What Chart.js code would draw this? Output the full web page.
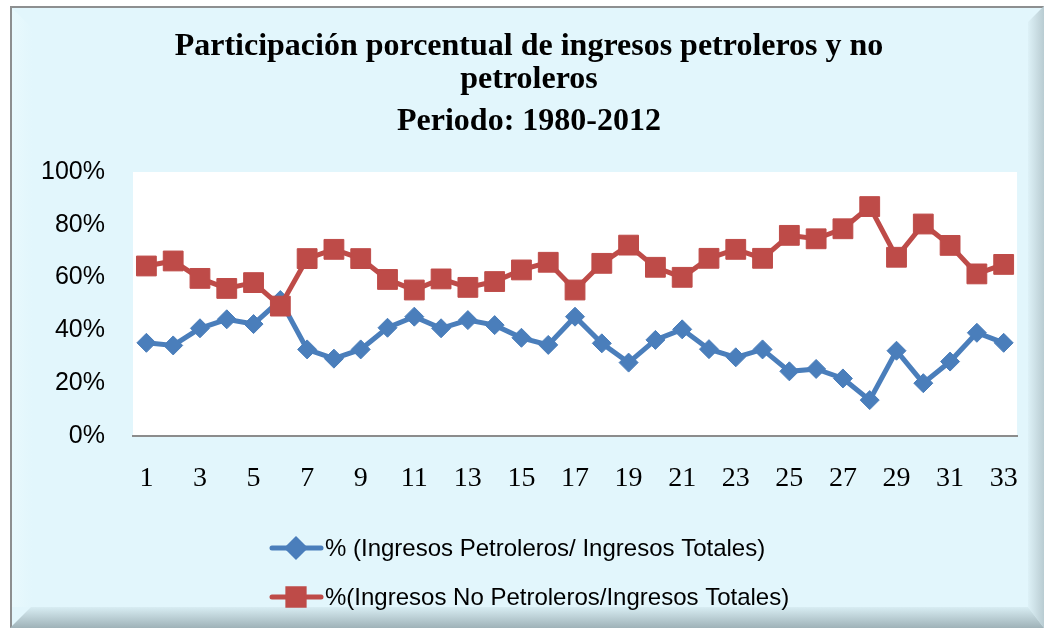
<!DOCTYPE html>
<html>
<head>
<meta charset="utf-8">
<script src="https://cdn.jsdelivr.net/npm/chart.js@4.4.1/dist/chart.umd.min.js"></script>
<style>
  html, body { margin: 0; padding: 0; background: #fff; overflow: hidden; }
  #frame {
    position: absolute; left: 10px; top: 6px; width: 1034px; height: 622px;
    background: #E2F6FC;
    border-left: 2px solid #8d8f90; border-top: 2px solid #8d8f90;
    box-sizing: border-box;
  }
  #bevelR {
    position: absolute; left: 1028px; top: 6px; width: 16px; height: 622px;
    background: linear-gradient(to right, #DDF1F7, #B9CCD2);
    clip-path: polygon(0 16px, 100% 0, 100% 100%, 0 calc(100% - 21px));
  }
  #bevelB {
    position: absolute; left: 10px; top: 607px; width: 1034px; height: 21px;
    background: linear-gradient(to bottom, #D8EDF3, #9FB2B8);
    clip-path: polygon(21px 0, calc(100% - 16px) 0, 100% 100%, 0 100%);
  }
  #bevelL {
    position: absolute; left: 12px; top: 8px; width: 20px; height: 599px;
    background: linear-gradient(to right, #E8F9FD, #E2F6FC);
    clip-path: polygon(0 0, 100% 20px, 100% 100%, 0 100%);
  }
  #chart { position: absolute; left: 0; top: 0; }
</style>
</head>
<body>
<div id="frame"></div>
<div id="bevelL"></div>
<div id="bevelR"></div>
<div id="bevelB"></div>
<canvas id="chart" width="1044" height="628"></canvas>
<script>
// ─── Data ────────────────────────────────────────────────────────────────────
var TITLE_LINES = [
  'Participación porcentual de ingresos petroleros y no',
  'petroleros',
  'Periodo: 1980-2012'
];

var CATEGORIES = ['1','2','3','4','5','6','7','8','9','10','11','12','13','14','15','16','17',
                  '18','19','20','21','22','23','24','25','26','27','28','29','30','31','32','33'];

// % (Ingresos Petroleros / Ingresos Totales)
var PETROLEROS = [35.3, 34.3, 40.8, 44.2, 42.4, 51.5, 32.8, 29.3, 32.8, 41.0, 45.2,
                  40.8, 43.9, 42.0, 37.2, 34.5, 45.2, 35.1, 27.8, 36.4, 40.4, 32.9,
                  29.8, 32.8, 24.5, 25.4, 21.8, 13.6, 32.3, 20.0, 28.2, 39.1, 35.3];

// %(Ingresos No Petroleros / Ingresos Totales)
var NO_PETROLEROS = [64.4, 66.3, 59.7, 55.9, 58.1, 49.2, 67.2, 70.7, 67.2, 59.3, 55.3,
                     59.5, 56.3, 58.5, 62.9, 65.8, 55.3, 65.4, 72.3, 63.9, 60.1, 67.3,
                     70.7, 67.3, 76.0, 74.7, 78.5, 86.9, 67.7, 80.3, 72.2, 61.4, 65.0];

var Y_TICKS = [0, 20, 40, 60, 80, 100];

var LABEL_PET = '% (Ingresos Petroleros/ Ingresos Totales)';
var LABEL_NOPET = '%(Ingresos No Petroleros/Ingresos Totales)';

var BLUE = '#4A7EBB';
var RED  = '#BE4B48';

// ─── Plugins ────────────────────────────────────────────────────────────────
// white plot area
var plotBg = {
  id: 'plotBg',
  beforeDraw: function(chart) {
    var a = chart.chartArea, ctx = chart.ctx;
    ctx.save();
    ctx.fillStyle = '#ffffff';
    ctx.fillRect(a.left, a.top, a.right - a.left, a.bottom - a.top);
    ctx.restore();
  }
};

// title, three centred lines in bold serif
var titleText = {
  id: 'titleText',
  afterDraw: function(chart) {
    var ctx = chart.ctx;
    var baselines = [55, 88, 130];
    ctx.save();
    ctx.font = 'bold 32px "Liberation Serif", "Times New Roman", serif';
    ctx.fillStyle = '#000';
    ctx.textAlign = 'center';
    ctx.textBaseline = 'alphabetic';
    TITLE_LINES.forEach(function(t, i) { ctx.fillText(t, 529, baselines[i]); });
    ctx.restore();
  }
};

// legend below chart, left aligned, line + marker
var legendBox = {
  id: 'legendBox',
  afterDraw: function(chart) {
    var ctx = chart.ctx;
    var rows = [548, 597];
    ctx.save();
    chart.data.datasets.forEach(function(ds, i) {
      var y = rows[i];
      ctx.strokeStyle = ds.borderColor;
      ctx.lineWidth = 5;
      ctx.lineCap = 'round';
      ctx.beginPath();
      ctx.moveTo(272, y);
      ctx.lineTo(321, y);
      ctx.stroke();
      Chart.helpers.drawPoint(ctx, {
        pointStyle: ds.pointStyle,
        radius: ds.pointStyle === 'rect' ? 11.5 : 8.5,
        borderWidth: 1
      }, 296, y);
      ctx.fillStyle = ds.borderColor;
      ctx.fill();
      ctx.fillStyle = '#000';
      ctx.font = '24px "Liberation Sans", Arial, sans-serif';
      ctx.textAlign = 'left';
      ctx.textBaseline = 'middle';
      ctx.fillText(ds.label, 325, y + 1);
    });
    ctx.restore();
  }
};

// ─── Chart ───────────────────────────────────────────────────────────────────
new Chart(document.getElementById('chart').getContext('2d'), {
  type: 'line',
  plugins: [plotBg, titleText, legendBox],
  data: {
    labels: CATEGORIES,
    datasets: [
      {
        label: LABEL_PET,
        data: PETROLEROS,
        borderColor: BLUE,
        backgroundColor: BLUE,
        borderWidth: 5,
        pointStyle: 'rectRot',
        pointRadius: 9.5,
        pointBorderWidth: 1,
        pointBackgroundColor: BLUE,
        pointBorderColor: BLUE,
        tension: 0,
        fill: false,
        order: 1
      },
      {
        label: LABEL_NOPET,
        data: NO_PETROLEROS,
        borderColor: RED,
        backgroundColor: RED,
        borderWidth: 5,
        pointStyle: 'rect',
        pointRadius: 14,
        pointBorderWidth: 1,
        pointBackgroundColor: RED,
        pointBorderColor: RED,
        tension: 0,
        fill: false,
        order: 0
      }
    ]
  },
  options: {
    responsive: false,
    devicePixelRatio: 1,
    animation: false,
    layout: { padding: { left: 0, top: 172, right: 22, bottom: 132 } },
    plugins: {
      legend: { display: false },
      title: { display: false },
      tooltip: { enabled: false }
    },
    scales: {
      x: {
        offset: true,
        grid: { display: false, drawTicks: false },
        border: { display: true, color: '#8c8c8c', width: 2 },
        ticks: {
          autoSkip: false,
          maxRotation: 0,
          padding: 26,
          color: '#000',
          font: { size: 28, family: '"Liberation Serif", "Times New Roman", serif' },
          callback: function(v, i) { return i % 2 === 0 ? CATEGORIES[i] : ''; }
        },
        afterFit: function(scale) { scale.height = 60; }
      },
      y: {
        min: 0,
        max: 100,
        grid: { display: false, drawTicks: false },
        border: { display: false },
        afterBuildTicks: function(scale) {
          scale.ticks = Y_TICKS.map(function(v) { return { value: v }; });
        },
        ticks: {
          padding: 28,
          color: '#000',
          font: { size: 25, family: '"Liberation Sans", Arial, sans-serif' },
          callback: function(v) { return v + '%'; }
        },
        afterFit: function(scale) { scale.width = 133; }
      }
    }
  }
});
</script>
</body>
</html>
